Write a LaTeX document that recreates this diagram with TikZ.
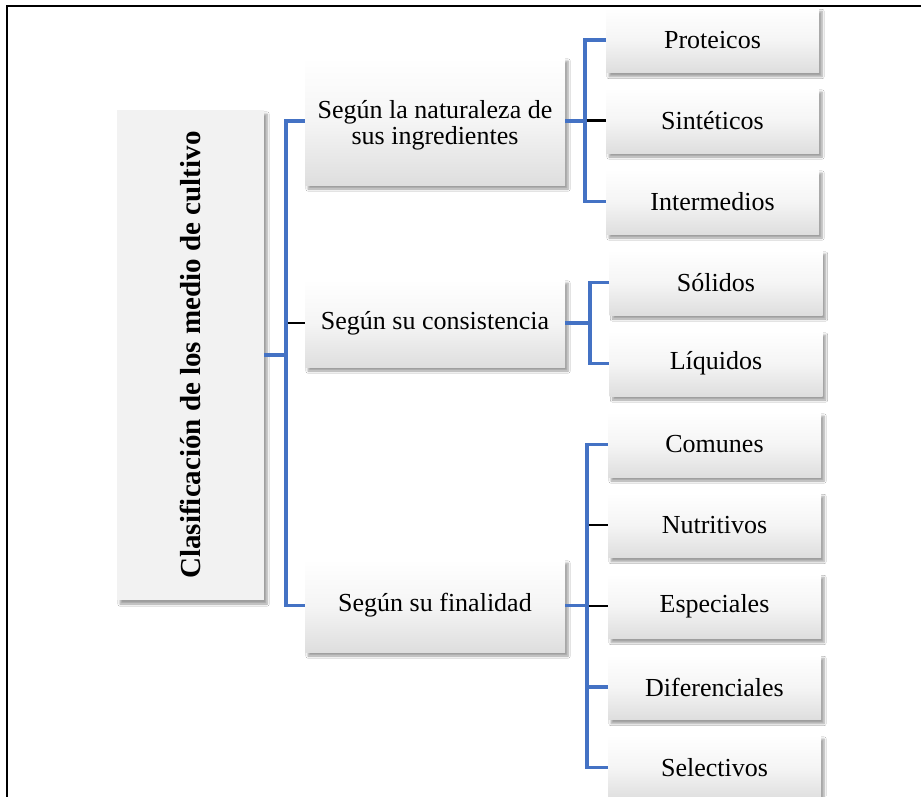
\documentclass[tikz,border=0pt]{standalone}
\usepackage{fontspec}
\setmainfont{Liberation Serif}
\usetikzlibrary{shadows.blur}
\definecolor{linkblue}{HTML}{4472C4}
\definecolor{rootgray}{HTML}{F2F2F2}
\definecolor{boxbottom}{HTML}{DEDEDE}
\tikzset{
  sh/.style={blur shadow={shadow xshift=3pt, shadow yshift=-4pt, shadow blur steps=6, shadow blur radius=2.2pt, shadow opacity=38}},
  rootbox/.style={rectangle, fill=rootgray, sh, inner sep=0pt, minimum width=147pt, minimum height=490pt},
  midbox/.style={rectangle, top color=white, bottom color=boxbottom, middle color=white!96!black, sh, inner sep=0pt, minimum width=260pt, align=center, font=\fontsize{26}{26}\selectfont},
  leafbox/.style={rectangle, top color=white, bottom color=boxbottom, middle color=white!96!black, sh, inner sep=0pt, minimum width=213pt, minimum height=65pt, font=\fontsize{26}{26}\selectfont},
  bl/.style={draw=linkblue, line width=3.5pt, line join=miter},
  bk/.style={draw=black, line width=2.2pt},
}
\begin{document}
\begin{tikzpicture}[x=1pt, y=-1pt]
\useasboundingbox (0,0) rectangle (921,796);
\fill[white] (0,0) rectangle (921,796);
\draw[line width=2pt] (7,797) -- (7,6) -- (922,6);

\node[rootbox] (root) at (190.5,355) {\rotatebox{90}{\fontsize{29}{30}\selectfont\bfseries Clasificación de los medio de cultivo}};

\node[midbox, minimum height=128pt] (b1) at (435,121) {\rule{0pt}{27pt}Según la naturaleza de\\sus ingredientes};
\node[midbox, minimum height=88pt] (b2) at (435,323) {Según su consistencia};
\node[midbox, minimum height=93pt] (b3) at (435,605.5) {Según su finalidad};

\node[leafbox] (p1) at (712.5,40) {Proteicos};
\node[leafbox] (p2) at (712.5,120.5) {Sintéticos};
\node[leafbox] (p3) at (712.5,201.5) {Intermedios};

\node[leafbox] (s1) at (716,282.5) {Sólidos};
\node[leafbox] (s2) at (716,363.5) {Líquidos};

\node[leafbox] (c1) at (714.5,444.5) {Comunes};
\node[leafbox] (c2) at (714.5,525) {Nutritivos};
\node[leafbox] (c3) at (714.5,606) {Especiales};
\node[leafbox] (c4) at (714.5,687) {Diferenciales};
\node[leafbox] (c5) at (714.5,767.5) {Selectivos};

% root bracket
\coordinate (j0) at (286,355);
\draw[bl] (root.east) -- (j0);
\draw[bl] (b1.west) -- (j0 |- b1.west) -- (j0 |- b3.west) -- (b3.west);
\draw[bk] ([xshift=1.7pt]j0 |- b2.west) -- (b2.west);

% group 1
\coordinate (j1) at (585,121);
\draw[bl] (b1.east) -- (j1);
\draw[bl] (p1.west) -- (j1 |- p1.west) -- (j1 |- p3.west) -- (p3.west);
\draw[bk] ([xshift=1.7pt]j1 |- p2.west) -- (p2.west);

% group 2
\coordinate (j2) at (590,323);
\draw[bl] (b2.east) -- (j2);
\draw[bl] (s1.west) -- (j2 |- s1.west) -- (j2 |- s2.west) -- (s2.west);

% group 3
\coordinate (j3) at (587,605.5);
\draw[bl] (b3.east) -- (j3);
\draw[bl] (c1.west) -- (j3 |- c1.west) -- (j3 |- c5.west) -- (c5.west);
\draw[bl] (j3 |- c4.west) -- (c4.west);
\draw[bk] ([xshift=1.7pt]j3 |- c2.west) -- (c2.west);
\draw[bk] ([xshift=1.7pt]j3 |- c3.west) -- (c3.west);
\end{tikzpicture}
\end{document}
